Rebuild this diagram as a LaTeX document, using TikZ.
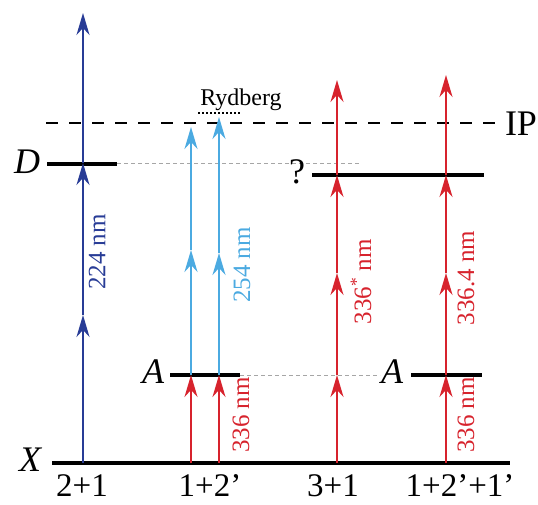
\documentclass[tikz,border=0pt]{standalone}
\usepackage{fontspec}
\setmainfont{Liberation Serif}
\usetikzlibrary{arrows.meta}
\definecolor{darkblue}{RGB}{40,60,150}
\definecolor{skyblue}{RGB}{75,170,225}
\definecolor{laserred}{RGB}{215,35,45}
\begin{document}
\begin{tikzpicture}[x=1pt, y=1pt,
    photon/.style={line width=2pt, -{Stealth[length=22pt, width=13pt, inset=7pt]}},
    level/.style={line width=4pt},
    guide/.style={gray!70, line width=1pt, dash pattern=on 4pt off 3pt},
    wavelength/.style={rotate=90, font=\fontsize{25}{30}\selectfont},
    statelabel/.style={font=\fontsize{36}{42}\selectfont\itshape},
    scheme/.style={font=\fontsize{33}{40}\selectfont}]
    \useasboundingbox (0,0) rectangle (538,504);

    % 能级
    \draw[level] (52,41) -- (510,41);
    \draw[level] (170,129) -- (240,129);
    \draw[level] (411,129) -- (482,129);
    \draw[level] (47,340) -- (117,340);
    \draw[level] (312,329) -- (484,329);
    \draw[guide] (117,340) -- (360,340);
    \draw[guide] (240,129) -- (380,129);

    % 电离限
    \draw[line width=2.5pt, dash pattern=on 12pt off 11pt] (46,381) -- (497,381);
    \draw[line width=2pt, dotted] (198,391) -- (240,391);
    \node (ryd) at (241,404) {\fontsize{24}{28}\selectfont Rydberg};
    \node[font=\fontsize{36}{42}\selectfont] (ip) at (521,380) {IP};

    % 2+1
    \draw[photon, darkblue] (83,41) -- (83,189);
    \draw[photon, darkblue] (83,189) -- (83,341);
    \draw[photon, darkblue] (83,341) -- (83,491);
    \node[wavelength, darkblue] (wl224) at (97,252) {224 nm};

    % 1+2'
    \draw[photon, laserred] (191,41) -- (191,129);
    \draw[photon, laserred] (219,41) -- (219,129);
    \draw[photon, skyblue] (191,129) -- (191,254);
    \draw[photon, skyblue] (191,254) -- (191,377);
    \draw[photon, skyblue] (219,129) -- (219,251);
    \draw[photon, skyblue] (219,251) -- (219,387);
    \node[wavelength, laserred] (wl336a) at (241,89) {336 nm};
    \node[wavelength, skyblue] (wl254) at (242,239) {254 nm};

    % 3+1
    \draw[photon, laserred] (337,41) -- (337,129);
    \draw[photon, laserred] (337,129) -- (337,231);
    \draw[photon, laserred] (337,231) -- (337,329);
    \draw[photon, laserred] (337,329) -- (337,424);
    \node[wavelength, laserred] (wl336s) at (361,222) {336\textsuperscript{*} nm};

    % 1+2'+1'
    \draw[photon, laserred] (446,41) -- (446,129);
    \draw[photon, laserred] (446,129) -- (446,231);
    \draw[photon, laserred] (446,231) -- (446,329);
    \draw[photon, laserred] (446,329) -- (446,429);
    \node[wavelength, laserred] (wl3364) at (466,226) {336.4 nm};
    \node[wavelength, laserred] (wl336b) at (466,89) {336 nm};

    % 标注
    \node[statelabel] (xlab) at (30,44) {X};
    \node[statelabel] (dlab) at (27,342) {D};
    \node[statelabel] (alab1) at (153,132) {A};
    \node[statelabel] (alab2) at (392,132) {A};
    \node[font=\fontsize{36}{42}\selectfont] (qlab) at (297,332) {?};
    \node[scheme] (s21) at (82,18) {2+1};
    \node[scheme] (s12) at (210,18) {1+2’};
    \node[scheme] (s31) at (333,18) {3+1};
    \node[scheme] (s121) at (460,18) {1+2’+1’};
\end{tikzpicture}
\end{document}
